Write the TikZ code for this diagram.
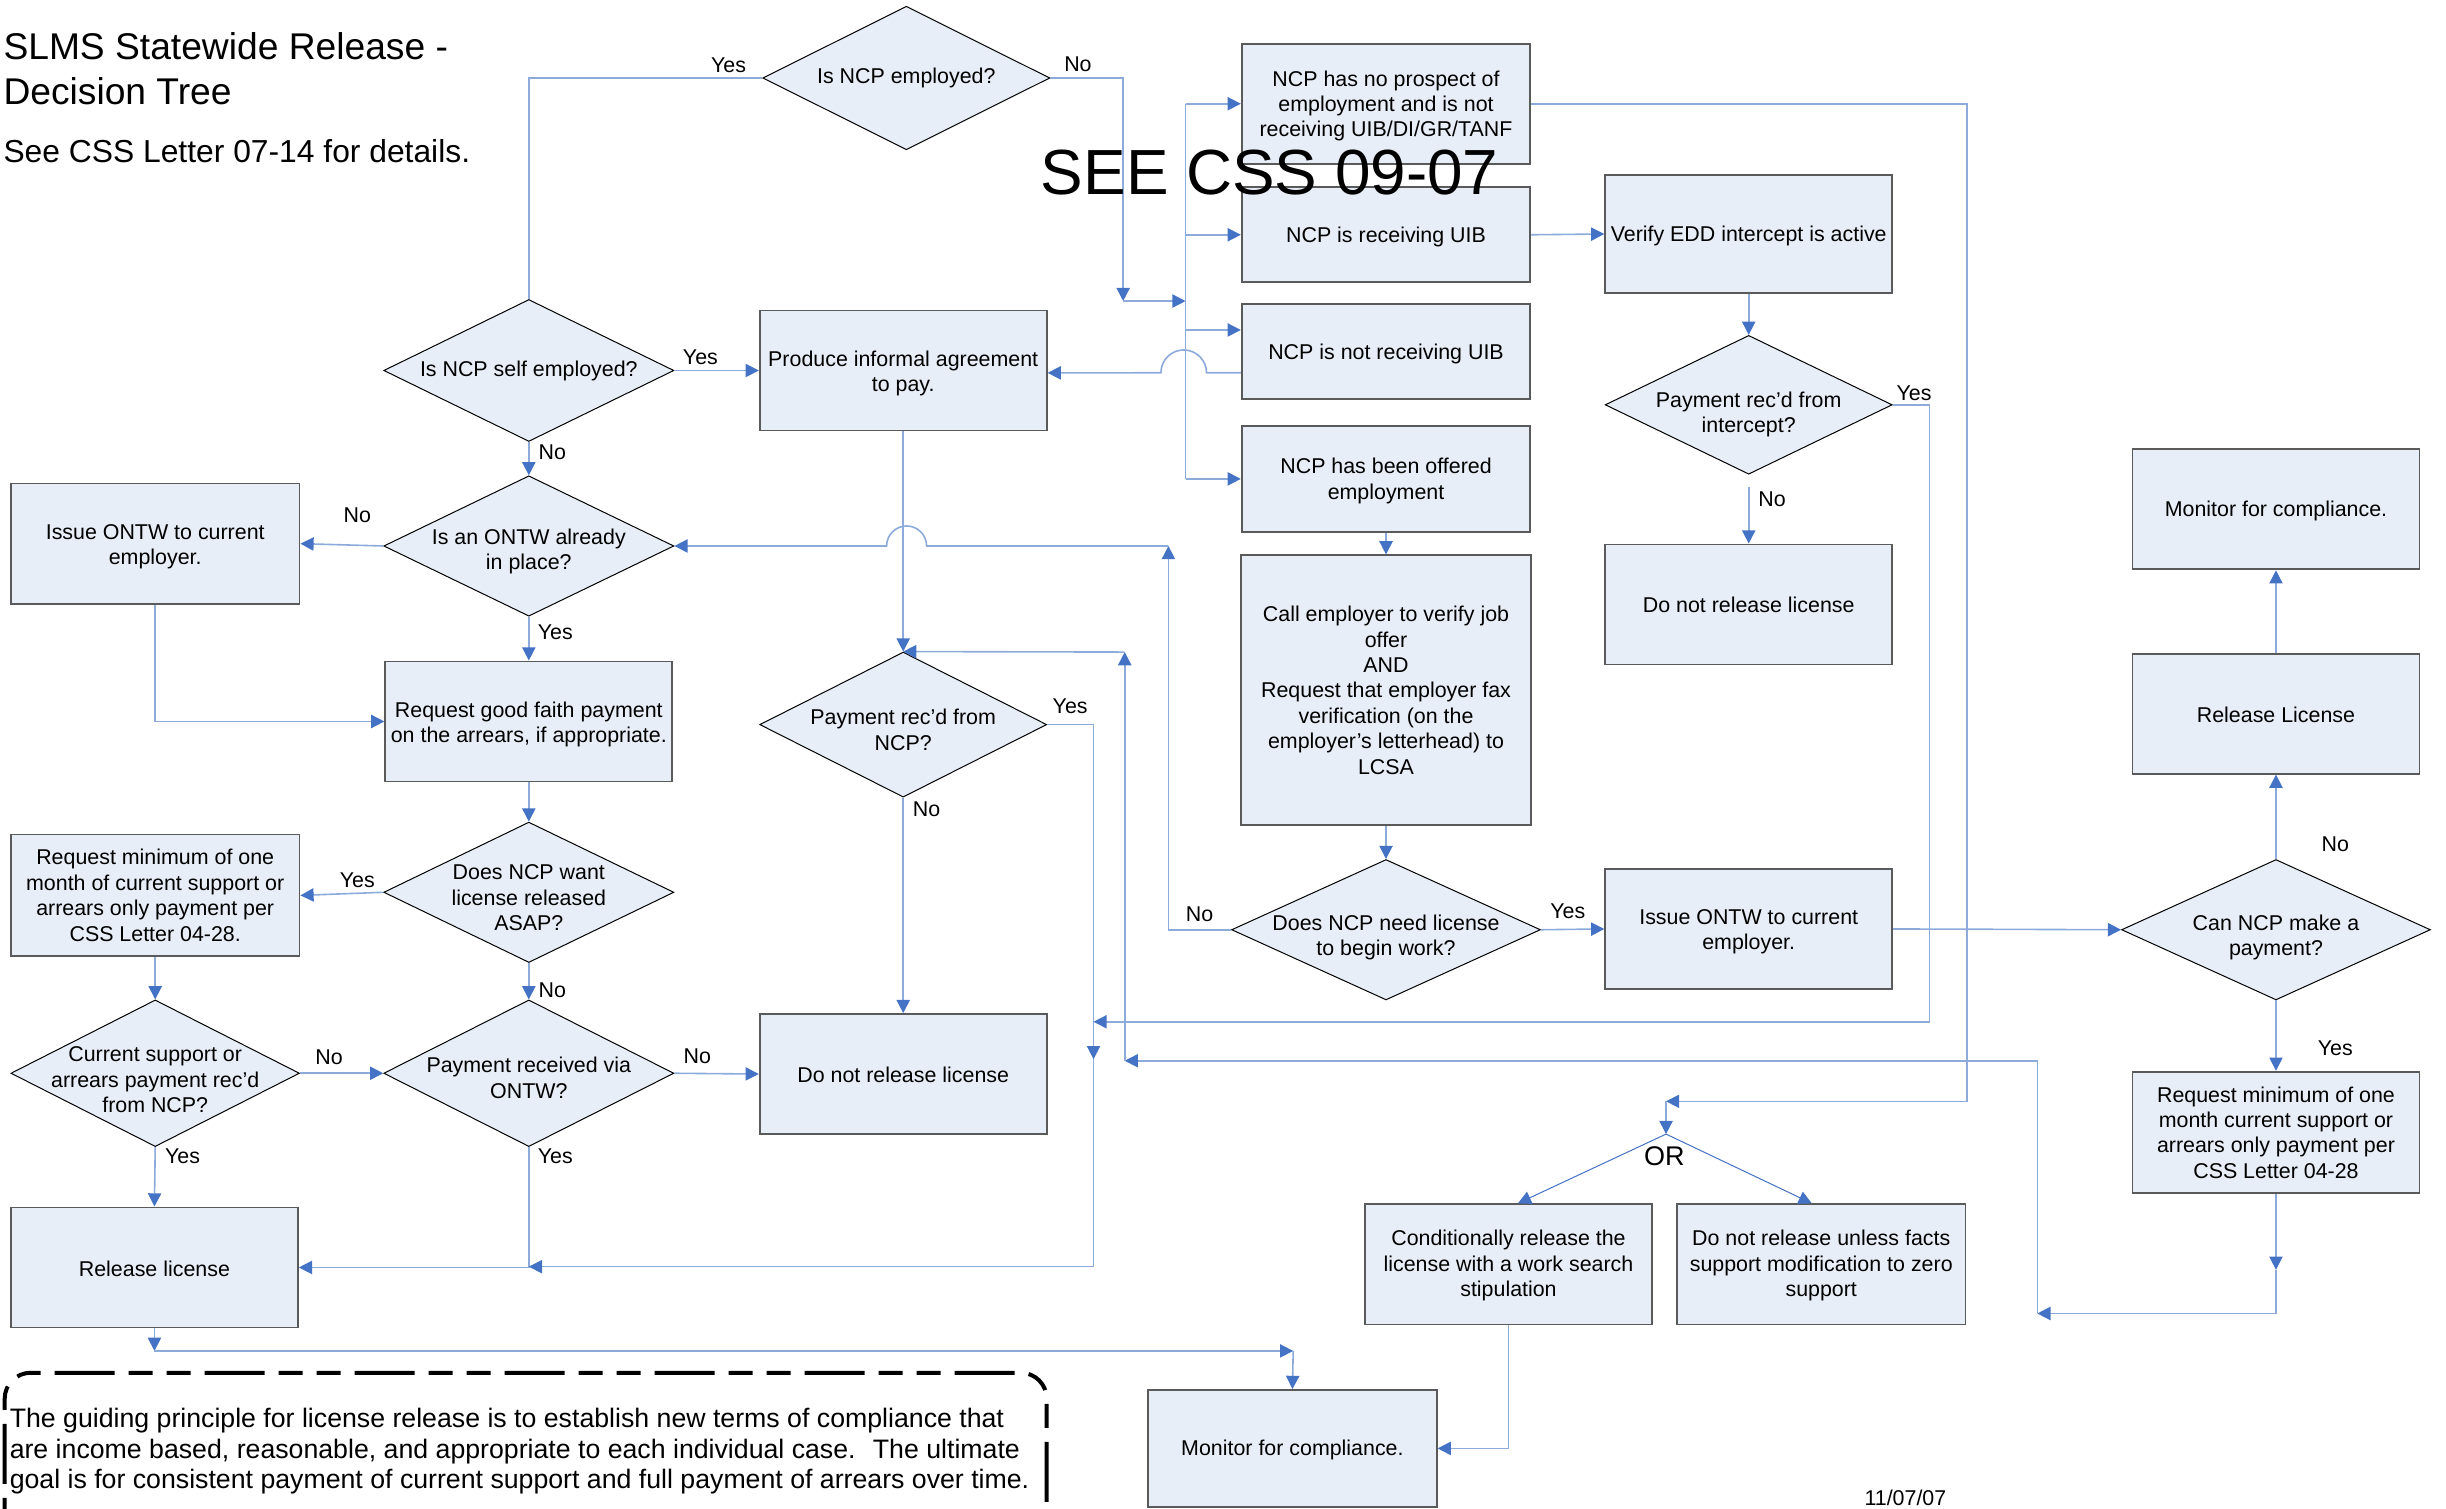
\documentclass[tikz,border=0pt]{standalone}
\usepackage{fontspec}
\setmainfont{Liberation Sans}
\usetikzlibrary{arrows.meta,shapes.geometric,calc}
\definecolor{fillb}{RGB}{232,238,247}
\definecolor{lineb}{RGB}{140,170,218}
\definecolor{arrb}{RGB}{68,114,196}
\definecolor{boxd}{RGB}{90,90,90}
\newcommand\myup[1]{\rule{0pt}{#1}}
\begin{document}
\begin{tikzpicture}[x=0.78pt,y=-0.78pt,
 txt/.style={font=\fontsize{10.7}{12.7}\selectfont, align=center},
 bw/.style={minimum width=#1*0.78pt},
 bh/.style={minimum height=#1*0.78pt},
 tdown/.style={execute at begin node={\rule{0pt}{#1}}},
 box/.style={txt, rectangle, draw=boxd, line width=0.9pt, fill=fillb, inner sep=1pt},
 dia/.style={txt, diamond, draw=black, line width=0.5pt, fill=fillb, inner sep=-40pt},
 conn/.style={draw=lineb, line width=0.8pt},
 arr/.style={-{Triangle[length=6.6pt,width=6.6pt,color=arrb,fill=arrb]}},
 lbl/.style={font=\fontsize{10.7}{12.7}\selectfont, inner sep=0pt},
]
\useasboundingbox (0,0) rectangle (1568,967);
\clip (0,0) rectangle (1568,967);

% titles
\node[anchor=base west, inner sep=0, font=\fontsize{18.6}{22}\selectfont] (t1) at (2,38) {SLMS Statewide Release -};
\node[anchor=base west, inner sep=0, font=\fontsize{18.6}{22}\selectfont] (t2) at (2,67) {Decision Tree};
\node[anchor=base west, inner sep=0, font=\fontsize{15.9}{19}\selectfont] (t3) at (2,104) {See CSS Letter 07-14 for details.};

% boxes
\node[box,bw=184,bh=77] (B1) at (579,237.5) {\myup{10.8pt}Produce informal agreement\\to pay.};
\node[box,bw=185,bh=77] (B2) at (888.5,66.5) {\myup{10pt}NCP has no prospect of\\employment and is not\\receiving UIB/DI/GR/TANF};
\node[box,bw=185,bh=61,tdown=10pt] (B3) at (888.5,150.5) {NCP is receiving UIB};
\node[box,bw=184,bh=76,tdown=10pt] (B4) at (1121,150) {Verify EDD intercept is active};
\node[box,bw=185,bh=61,tdown=10pt] (B5) at (888.5,225.5) {NCP is not receiving UIB};
\node[box,bw=185,bh=68] (B6) at (888.5,307) {\myup{10pt}NCP has been offered\\employment};
\node[box,bw=186,bh=173] (B7) at (888.5,442.5) {Call employer to verify job\\offer\\AND\\Request that employer fax\\verification (on the\\employer’s letterhead) to\\LCSA};
\node[box,bw=184,bh=77,tdown=8pt] (B8) at (1121,387.5) {Do not release license};
\node[box,bw=184,bh=77,tdown=9pt] (B9) at (1459,326.5) {Monitor for compliance.};
\node[box,bw=184,bh=77,tdown=9pt] (B10) at (1459,457.5) {Release License};
\node[box,bw=184,bh=77] (B11) at (1121,595.5) {\myup{10pt}Issue ONTW to current\\employer.};
\node[box,bw=184,bh=78] (B12) at (1459,726) {Request minimum of one\\month current support or\\arrears only payment per\\CSS Letter 04-28};
\node[box,bw=184,bh=77] (B13) at (967,810.5) {\myup{9pt}Conditionally release the\\license with a work search\\stipulation};
\node[box,bw=185,bh=77] (B14) at (1167.5,810.5) {\myup{9pt}Do not release unless facts\\support modification to zero\\support};
\node[box,bw=185,bh=75,tdown=9pt] (B15) at (828.5,928.5) {Monitor for compliance.};
\node[box,bw=185,bh=77] (B16) at (99.5,348.5) {\myup{10.8pt}Issue ONTW to current\\employer.};
\node[box,bw=184,bh=77] (B17) at (339,462.5) {\myup{10.8pt}Request good faith payment\\on the arrears, if appropriate.};
\node[box,bw=185,bh=78] (B18) at (99.5,574) {Request minimum of one\\month of current support or\\arrears only payment per\\CSS Letter 04-28.};
\node[box,bw=184,bh=77,tdown=9pt] (B19) at (579,688.5) {Do not release license};
\node[box,bw=184,bh=77,tdown=9pt] (B20) at (99,812.5) {Release license};

% diamonds
\node[dia,bw=184,bh=92,tdown=6.5pt] (D1) at (581,50) {Is NCP employed?};
\node[dia,bw=186,bh=91,tdown=6.5pt] (D2) at (339,237.5) {Is NCP self employed?};
\node[dia,bw=186,bh=90] (D3) at (339,350) {\myup{13.2pt}Is an ONTW already\\in place?};
\node[dia,bw=186,bh=90] (D4) at (339,572) {\myup{13.2pt}Does NCP want\\license released\\ASAP?};
\node[dia,bw=185,bh=94] (D5) at (99.5,688) {\myup{14pt}Current support or\\arrears payment rec’d\\from NCP?};
\node[dia,bw=186,bh=94] (D6) at (339,688) {\myup{12.5pt}Payment received via\\ONTW?};
\node[dia,bw=184,bh=93] (D7) at (579,464.5) {\myup{13.2pt}Payment rec’d from\\NCP?};
\node[dia,bw=184,bh=89] (D8) at (1121,259.5) {\myup{17.2pt}Payment rec’d from\\intercept?};
\node[dia,bw=198,bh=90] (D9) at (888.5,596) {\myup{15.6pt}Does NCP need license\\to begin work?};
\node[dia,bw=198,bh=90] (D10) at (1459,596) {\myup{15.6pt}Can NCP make a\\payment?};

% helper coordinates
\coordinate (n1) at (720,193);
\coordinate (bus) at (760,193);
\coordinate (b5in) at ([yshift=10.9pt]B5.west);
\coordinate (b5out) at ([yshift=-10.5pt]B5.west);
\coordinate (j1) at (701,812);
\coordinate (j2) at (701,655);
\coordinate (j3) at (701,679);
\coordinate (r1) at (1237,655);
\coordinate (r2) at (1261,706);
\coordinate (orj) at (1068,706);
\coordinate (orp) at (1068,727);
\coordinate (k1) at (1459,814);
\coordinate (k2) at (1306,842);
\coordinate (k3) at (721,680);
\coordinate (k4) at (721,418);
\coordinate (m1) at (749,350);
\coordinate (p1) at (99,866);
\coordinate (p2) at (829,866);

% connectors
\draw[conn] (D1.west) -| (D2.north);
\draw[conn,arr] (D1.east) -| (n1);
\draw[conn,arr] (n1) -- (bus);
\draw[conn] (bus |- B2.west) -- (bus |- B6.west);
\draw[conn,arr] (bus |- B2.west) -- (B2.west);
\draw[conn,arr] (bus |- B3.west) -- (B3.west);
\draw[conn,arr] (bus |- b5in) -- (b5in);
\draw[conn,arr] (bus |- B6.west) -- (B6.west);
\draw[conn,arr] (b5out) -- ++(-22,0) arc[start angle=0,end angle=180,radius=11.4pt] -- ([yshift=-1.2pt]B1.east);
\draw[conn,arr] (D2.east) -- (B1.west);
\draw[conn,arr] (D2.south) -- (D3.north);
\draw[conn,arr] (D3.west) -- (B16.east);
\draw[conn,arr] (D3.south) -- (B17.north);
\draw[conn,arr] (B16.south) |- (B17.west);
\draw[conn,arr] (B17.south) -- (D4.north);
\draw[conn,arr] (D4.west) -- (B18.east);
\draw[conn,arr] (D4.south) -- (D6.north);
\draw[conn,arr] (B18.south) -- (D5.north);
\draw[conn,arr] (D5.east) -- (D6.west);
\draw[conn,arr] (D6.east) -- (B19.west);
\draw[conn,arr] (D5.south) -- (B20.north);
\draw[conn,arr] (D6.south) |- (B20.east);
\draw[conn,arr] (B1.south) -- (D7.north);
\draw[conn,arr] (D7.south) -- (B19.north);
\draw[conn,arr] (D7.east) -| (j1) -- (D6.south |- j1);
\draw[conn,arr] (D8.east) -| (r1) -- (j2);
\draw[conn,arr] (j2) -- (j3);
\draw[conn,arr] (B2.east) -| (r2) -- (orj);
\draw[conn,arr] (orj) -- (orp);
\draw[draw=arrb,line width=0.5pt,arr] (orp) -- ([xshift=4.7pt]B13.north);
\draw[draw=arrb,line width=0.5pt,arr] (orp) -- ([xshift=-4.7pt]B14.north);
\draw[conn,arr] (B11.east) -- (D10.west);
\draw[conn,arr] (D10.north) -- (B10.south);
\draw[conn,arr] (B10.north) -- (B9.south);
\draw[conn,arr] (D10.south) -- (B12.north);
\draw[conn,arr] (B12.south) -- (k1);
\draw[conn,arr] (k1) |- (k2);
\draw[conn,arr] (k2) |- (k3);
\draw[conn,arr] (k3) -- (k4);
\draw[conn,arr] (k4) -- (D7.north);
\draw[conn,arr] (D9.west) -| (m1);
\draw[conn,arr] (m1) -- (594,350) arc[start angle=0,end angle=180,radius=10pt] -- (D3.east);
\draw[conn,arr] (D9.east) -- (B11.west);
\draw[conn,arr] (B6.south) -- (B7.north);
\draw[conn,arr] (B7.south) -- (D9.north);
\draw[conn,arr] (B3.east) -- (B4.west);
\draw[conn,arr] (B4.south) -- (D8.north);
\draw[conn,arr] ([yshift=-6pt]D8.south) -- (B8.north);
\draw[conn,arr] (B20.south) -- (p1);
\draw[conn,arr] (p1) -- (p2);
\draw[conn,arr] (p2) -- (B15.north);
\draw[conn,arr] (B13.south) |- (B15.east);

% labels
\node[lbl] (l1) at (467,42) {Yes};
\node[lbl] (l2) at (691,41) {No};
\node[lbl] (l3) at (449,229) {Yes};
\node[lbl] (l4) at (354,290) {No};
\node[lbl] (l5) at (229,330) {No};
\node[lbl] (l6) at (356,405) {Yes};
\node[lbl] (l7) at (229,564) {Yes};
\node[lbl] (l8) at (354,635) {No};
\node[lbl] (l9) at (211,678) {No};
\node[lbl] (l10) at (117,741) {Yes};
\node[lbl] (l11) at (447,677) {No};
\node[lbl] (l12) at (356,741) {Yes};
\node[lbl] (l13) at (686,453) {Yes};
\node[lbl] (l14) at (594,519) {No};
\node[lbl] (l15) at (1227,252) {Yes};
\node[lbl] (l16) at (1136,320) {No};
\node[lbl] (l17) at (769,586) {No};
\node[lbl] (l18) at (1005,584) {Yes};
\node[lbl] (l19) at (1497,541) {No};
\node[lbl] (l20) at (1497,672) {Yes};
\node[inner sep=0, font=\fontsize{13.5}{15}\selectfont] (orl) at (1067,741) {OR};

% guiding principle box
\draw[line width=2pt, dash pattern=on 12pt off 7pt on 12pt off 7pt on 30pt off 7pt, rounded corners=13pt]
  (3,1000) -- (3,880) -- (671,880) -- (671,1000);
\node[anchor=base west, inner sep=0, font=\fontsize{13.35}{15}\selectfont] (f1) at (6,915) {The guiding principle for license release is to establish new terms of compliance that};
\node[anchor=base west, inner sep=0, font=\fontsize{13.35}{15}\selectfont] (f2) at (6,935) {are income based, reasonable, and appropriate to each individual case.~ The ultimate};
\node[anchor=base west, inner sep=0, font=\fontsize{13.35}{15}\selectfont] (f3) at (6,954) {goal is for consistent payment of current support and full payment of arrears over time.};

\node[anchor=base west, inner sep=0, font=\fontsize{10.7}{12.7}\selectfont] (date) at (1195,965) {11/07/07};

% big overlay text
\node[anchor=base west, inner sep=0, font=\fontsize{31.9}{36}\selectfont] (see) at (667,125) {SEE CSS 09-07};
\end{tikzpicture}
\end{document}
